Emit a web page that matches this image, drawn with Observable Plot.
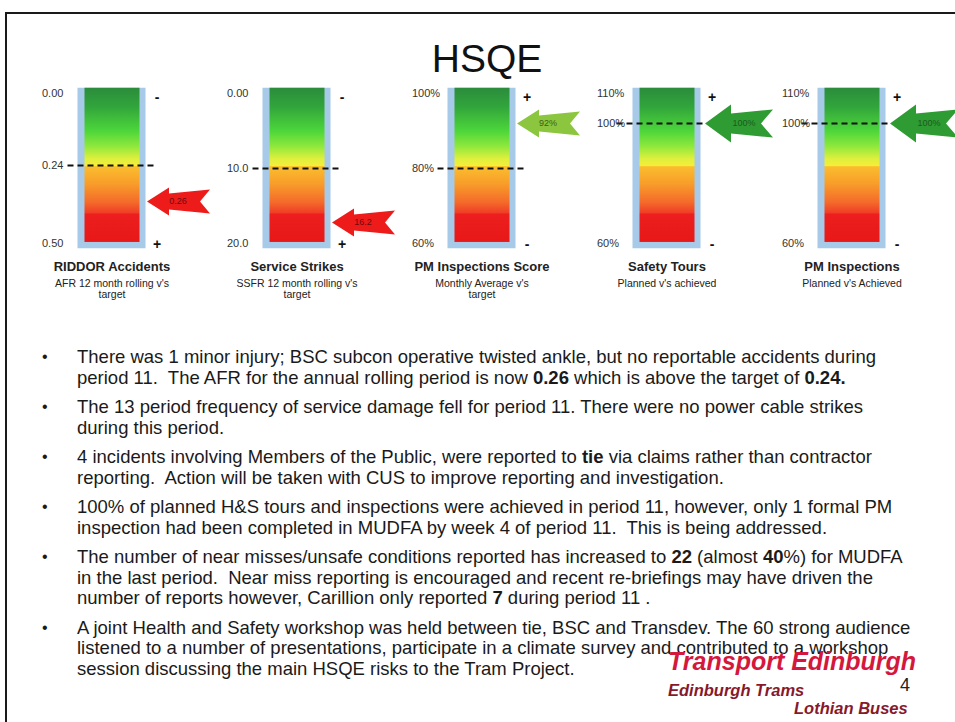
<!DOCTYPE html>
<html>
<head>
<meta charset="utf-8">
<script src="https://cdn.jsdelivr.net/npm/d3@7"></script>
<script src="https://cdn.jsdelivr.net/npm/@observablehq/plot@0.6"></script>
<style>
  body { margin: 0; background: #fff; font-family: "Liberation Sans", Arial, sans-serif; }
  #page { position: relative; width: 955px; height: 722px; overflow: hidden; background: #fff; }
  #border { position: absolute; left: 5px; top: 12px; width: 1000px; height: 800px; border: 2.5px solid #1a1a1a; box-sizing: border-box; }
  #title { position: absolute; left: 387px; width: 200px; top: 39px; text-align: center; font-size: 39px; line-height: 39px; color: #111; }
  #chart { position: absolute; left: 0; top: 80px; }
  #bullets { position: absolute; left: 0; top: 347px; width: 955px; color: #1a1a1a; font-size: 18.5px; }
  .para { position: relative; margin-bottom: 9px; }
  .para .dot { position: absolute; left: 42px; top: 0; line-height: 20.5px; font-size: 16px; }
  .para .line { margin-left: 77px; line-height: 20.5px; white-space: pre; }
  .logo { position: absolute; font-weight: bold; font-style: italic; line-height: 1; white-space: nowrap; }
</style>
</head>
<body>
<div id="page">
  <div id="border"></div>
  <div id="title">HSQE</div>
  <div id="chart"></div>
  <div id="bullets"></div>
  <div class="logo" style="left:668px; top:649px; font-size:25px; color:#d4183d;">Transport Edinburgh</div>
  <div class="logo" style="left:668px; top:682px; font-size:16.5px; color:#86192b;">Edinburgh Trams</div>
  <div class="logo" style="left:900px; top:676px; font-size:18px; color:#222; font-weight:normal; font-style:normal;">4</div>
  <div class="logo" style="left:794px; top:700px; font-size:16.5px; color:#86192b;">Lothian Buses</div>
</div>
<script>
// ---- data ----
const gaugeNames = ["RIDDOR Accidents", "Service Strikes", "PM Inspections Score", "Safety Tours", "PM Inspections"];
const gaugeSubtitles = ["AFR 12 month rolling v's\ntarget", "SSFR 12 month rolling v's\ntarget", "Monthly Average v's\ntarget", "Planned v's achieved", "Planned v's Achieved"];
const scaleTop = [0, 0, 100, 110, 110];
const scaleBottom = [0.5, 20, 60, 60, 60];
const tickValues = [[0, 0.24, 0.5], [0, 10, 20], [100, 80, 60], [110, 100, 60], [110, 100, 60]];
const tickLabels = [["0.00", "0.24", "0.50"], ["0.00", "10.0", "20.0"], ["100%", "80%", "60%"], ["110%", "100%", "60%"], ["110%", "100%", "60%"]];
const targetValues = [0.24, 10, 80, 100, 100];
const topSigns = ["-", "-", "+", "+", "+"];
const bottomSigns = ["+", "+", "-", "-", "-"];
const arrowValues = [0.36, 17.2, 92, 100, 100];      // where each arrow points on its gauge
const arrowLabels = ["0.26", "16.2", "92%", "100%", "100%"];
const arrowTones = ["red", "red", "light green", "green", "green"];

const bulletLines = [
  ["There was 1 minor injury; BSC subcon operative twisted ankle, but no reportable accidents during",
   "period 11.  The AFR for the annual rolling period is now <b>0.26</b> which is above the target of <b>0.24.</b>"],
  ["The 13 period frequency of service damage fell for period 11. There were no power cable strikes",
   "during this period."],
  ["4 incidents involving Members of the Public, were reported to <b>tie</b> via claims rather than contractor",
   "reporting.  Action will be taken with CUS to improve reporting and investigation."],
  ["100% of planned H&amp;S tours and inspections were achieved in period 11, however, only 1 formal PM",
   "inspection had been completed in MUDFA by week 4 of period 11.  This is being addressed."],
  ["The number of near misses/unsafe conditions reported has increased to <b>22</b> (almost <b>40</b>%) for MUDFA",
   "in the last period.  Near miss reporting is encouraged and recent re-briefings may have driven the",
   "number of reports however, Carillion only reported <b>7</b> during period 11 ."],
  ["A joint Health and Safety workshop was held between tie, BSC and Transdev. The 60 strong audience",
   "listened to a number of presentations, participate in a climate survey and contributed to a workshop",
   "session discussing the main HSQE risks to the Tram Project."]
];

// ---- styles ----
const toneFill = {"red": "#ee1b1b", "light green": "#8cc63f", "green": "#2e9c33"};
const toneText = {"red": "#6e0a0a", "light green": "#3d5f12", "green": "#1d5a1d"};

// ---- build tables ----
const frac = (i, v) => (v - scaleTop[i]) / (scaleBottom[i] - scaleTop[i]);
const gauges = gaugeNames.map((name, i) => ({
  name, i,
  subtitle: gaugeSubtitles[i],
  target: frac(i, targetValues[i]),
  arrow: frac(i, arrowValues[i]),
  label: arrowLabels[i],
  tone: arrowTones[i],
  topSign: topSigns[i],
  bottomSign: bottomSigns[i],
  big: i >= 3
}));
const ticks = gaugeNames.flatMap((name, i) => tickValues[i].map((v, k) => ({name, i, y: frac(i, v), label: tickLabels[i][k]})));

function arrowSymbol(len, headLen, headH, shaftH, tailH, notch) {
  return {
    draw(ctx) {
      ctx.moveTo(0, 0);
      ctx.lineTo(headLen, -headH);
      ctx.lineTo(headLen, -shaftH);
      ctx.lineTo(len, -tailH);
      ctx.lineTo(len - notch, 0);
      ctx.lineTo(len, tailH);
      ctx.lineTo(headLen, shaftH);
      ctx.lineTo(headLen, headH);
      ctx.closePath();
    }
  };
}
const smallArrow = arrowSymbol(63, 22, 14, 8, 12, 10);
const bigArrow = arrowSymbol(68, 26, 19, 10, 14, 12);

const GRAD = "#010203";

const plot = Plot.plot({
  width: 955,
  height: 230,
  marginTop: 13,
  marginBottom: 67,
  marginLeft: 19,
  marginRight: 11,
  fx: {domain: gaugeNames, padding: 0, axis: null},
  x: {domain: [-92.5, 92.5], axis: null},
  y: {domain: [0, 1], reverse: true, axis: null},
  style: {fontFamily: "Liberation Sans, Arial, sans-serif", background: "transparent"},
  marks: [
    Plot.rect(gauges, {fx: "name", x1: () => -34, x2: () => 34, y1: () => -0.035, y2: () => 1.035, fill: "#a6cae8"}),
    Plot.rect(gauges, {fx: "name", x1: () => -27, x2: () => 28, y1: () => -0.035, y2: () => 0.993, fill: GRAD}),
    Plot.ruleY(gauges, {fx: "name", y: "target", x1: d => d.big ? -50 : -44, x2: d => d.big ? 39 : 44,
      stroke: "#111", strokeWidth: 2, strokeDasharray: "6,4"}),
    Plot.text(ticks, {fx: "name", x: () => -70, y: "y", text: "label", textAnchor: "start", fontSize: 11, fill: "#333"}),
    Plot.text(gauges, {fx: "name", x: () => 45, y: () => 0.03, text: "topSign", fontSize: 14, fontWeight: "bold", fill: "#111"}),
    Plot.text(gauges, {fx: "name", x: () => 45, y: () => 1.01, text: "bottomSign", fontSize: 14, fontWeight: "bold", fill: "#111"}),
    Plot.dot(gauges.filter(d => !d.big), {fx: "name", x: () => 35, y: "arrow", r: 10, symbol: smallArrow,
      fill: d => toneFill[d.tone], stroke: "none"}),
    Plot.dot(gauges.filter(d => d.big), {fx: "name", x: () => 38, y: "arrow", r: 10, symbol: bigArrow,
      fill: d => toneFill[d.tone], stroke: "none"}),
    Plot.text(gauges, {fx: "name", x: d => d.big ? 77 : 66, y: "arrow", text: "label", fontSize: 9,
      fill: d => toneText[d.tone]}),
    Plot.text(gauges, {fx: "name", x: () => 0, frameAnchor: "bottom", dy: 27, text: "name",
      fontSize: 13, fontWeight: "bold", fill: "#222"}),
    Plot.text(gauges, {fx: "name", x: () => 0, frameAnchor: "bottom", dy: 35, lineAnchor: "top", lineHeight: 1.1,
      text: "subtitle", fontSize: 10.5, fill: "#222"})
  ]
});

// linear colour gradient for the gauge bars
const ns = "http://www.w3.org/2000/svg";
const defs = document.createElementNS(ns, "defs");
defs.innerHTML = `<linearGradient id="hsqeGrad" x1="0" y1="0" x2="0" y2="1">
  <stop offset="0" stop-color="#2b8c3b"/>
  <stop offset="0.12" stop-color="#31a43b"/>
  <stop offset="0.28" stop-color="#4dd63a"/>
  <stop offset="0.38" stop-color="#8fe83c"/>
  <stop offset="0.46" stop-color="#dff03c"/>
  <stop offset="0.505" stop-color="#f5ee3a"/>
  <stop offset="0.512" stop-color="#fbbd2e"/>
  <stop offset="0.62" stop-color="#f89e2a"/>
  <stop offset="0.74" stop-color="#f46c29"/>
  <stop offset="0.81" stop-color="#f03e26"/>
  <stop offset="0.82" stop-color="#ec1e1e"/>
  <stop offset="1" stop-color="#e81818"/>
</linearGradient>`;
plot.insertBefore(defs, plot.firstChild);
plot.querySelectorAll(`[fill="${GRAD}"]`).forEach(e => e.setAttribute("fill", "url(#hsqeGrad)"));
document.getElementById("chart").appendChild(plot);

// bullets
const bl = document.getElementById("bullets");
for (const lines of bulletLines) {
  const p = document.createElement("div");
  p.className = "para";
  p.innerHTML = `<span class="dot">•</span>` + lines.map(l => `<div class="line">${l}</div>`).join("");
  bl.appendChild(p);
}
</script>
</body>
</html>
